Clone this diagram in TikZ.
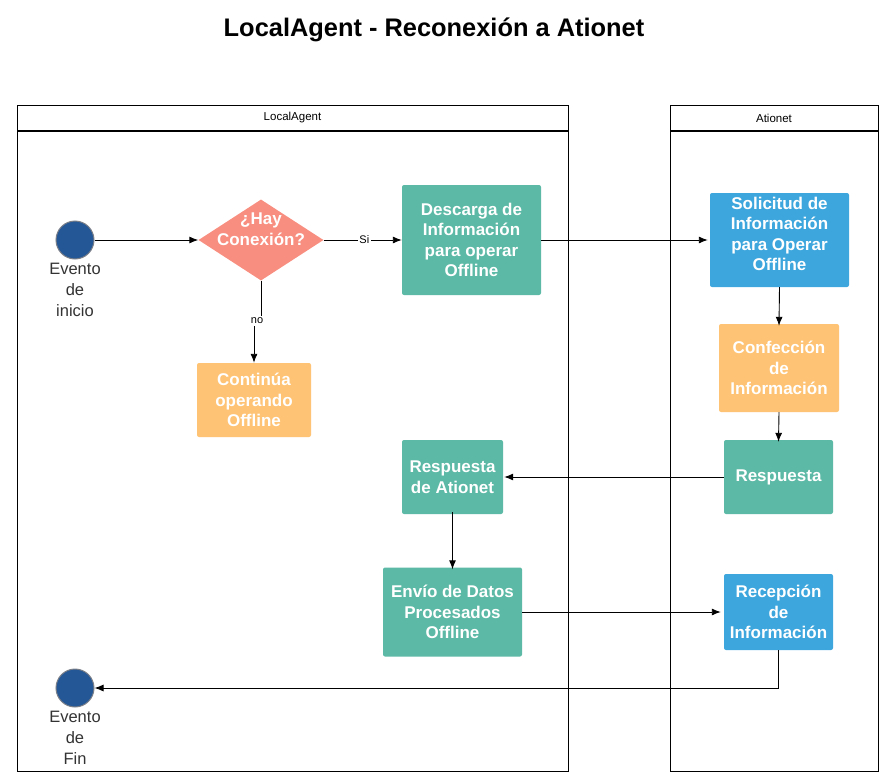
\documentclass[tikz,border=0pt]{standalone}
\usepackage{fontspec}
\setmainfont{Liberation Sans}
\usetikzlibrary{shapes.geometric,arrows.meta}
\definecolor{tealbox}{HTML}{5CB9A5}
\definecolor{bluebox}{HTML}{3DA6DD}
\definecolor{orangebox}{HTML}{FEC374}
\definecolor{salmon}{HTML}{F88E7F}
\definecolor{evblue}{HTML}{245796}
\definecolor{evborder}{HTML}{7A7F88}
\definecolor{lbltext}{HTML}{333333}
\begin{document}
\begin{tikzpicture}[x=1pt,y=-1pt,
  box/.style={rectangle, rounded corners=2pt, draw=none, text=white,
    font=\fontsize{17}{20.5}\selectfont\bfseries, align=center, inner sep=0pt},
  arr/.style={-{Latex[length=9pt,width=7pt]}, line width=0.9pt},
  pool/.style={draw, line width=1.2pt, anchor=north west, inner sep=0pt},
  poolname/.style={font=\fontsize{11.5}{13}\selectfont},
  ev/.style={circle, fill=evblue, draw=evborder, line width=1pt, minimum size=38pt, inner sep=0pt},
  evlbl/.style={font=\fontsize{16.5}{21}\selectfont, text=lbltext, align=center, anchor=north},
  elbl/.style={font=\fontsize{11}{12}\selectfont, fill=white, inner sep=1.5pt}]
\useasboundingbox (0,0) rectangle (883,781);

% title
\node[font=\fontsize{25.4}{28}\selectfont\bfseries] (title) at (434,30) {LocalAgent - Reconexión a Ationet};

% pools
\node[pool, minimum width=551pt, minimum height=666pt] (poolA) at (17,105) {};
\draw[line width=1.2pt] (poolA.north west) ++(0,26) coordinate (hA1) -- (hA1 -| poolA.east);
\node[poolname] (poolAname) at (292.5,118) {LocalAgent};
\node[pool, minimum width=208pt, minimum height=666pt] (poolB) at (670,105) {};
\draw[line width=1.2pt] (poolB.north west) ++(0,26) coordinate (hB1) -- (hB1 -| poolB.east);
\node[poolname] (poolBname) at (774,118) {Ationet};

% start event
\node[ev] (start) at (75,240) {};
\node[evlbl] (startlbl) at (75,259.5) {Evento\\de\\inicio};

% decision
\node[diamond, fill=salmon, minimum width=125pt, minimum height=81pt, inner sep=0pt] (dec) at (261,240) {};
\node[box] (dectext) at (261,229) {¿Hay\\Conexión?};

% boxes
\node[box, fill=tealbox, minimum width=139pt, minimum height=110pt] (desc) at (471.5,240) {Descarga de\\Información\\para operar\\Offline};
\node[box, fill=bluebox, minimum width=139pt, minimum height=94pt] (sol) at (779.5,240) {};
\node[box] (soltext) at (779.5,234) {Solicitud de\\Información\\para Operar\\Offline};
\node[box, fill=orangebox, minimum width=114pt, minimum height=74pt] (cont) at (254,400) {Continúa\\operando\\Offline};
\node[box, fill=orangebox, minimum width=120pt, minimum height=88pt] (conf) at (779,368) {Confección\\de\\Información};
\node[box, fill=tealbox, minimum width=109pt, minimum height=74pt] (resp) at (778.5,477) {Respuesta};
\node[box, fill=tealbox, minimum width=101pt, minimum height=74pt] (respat) at (452.5,477) {Respuesta\\de Ationet};
\node[box, fill=tealbox, minimum width=139pt, minimum height=89pt] (envio) at (452.5,612) {Envío de Datos\\Procesados\\Offline};
\node[box, fill=bluebox, minimum width=109pt, minimum height=76pt] (recep) at (778.5,612) {Recepción\\de\\Información};

% end event
\node[ev] (endev) at (75,688) {};
\node[evlbl] (endlbl) at (75,707.5) {Evento\\de\\Fin};

% connectors
\draw[arr] (start.east) -- (dec.west);
\draw[arr] (dec.east) -- node[elbl, pos=0.52] (si) {Si} (desc.west);
\coordinate (nobend) at (257,321);
\draw[arr] (dec.south) |- (nobend) -| (cont.north);
\node[elbl] (nolbl) at (nobend) {no};
\draw[arr] (desc.east) -- ([xshift=-2pt]sol.west);
\draw[arr] (sol.south) -- ([yshift=-2pt]conf.north);
\draw[arr] (conf.south) -- ([yshift=-2pt]resp.north);
\draw[arr] (resp.west) -- ([xshift=1pt]respat.east);
\draw[arr] ([yshift=2pt]respat.south) -- ([yshift=-2pt]envio.north);
\draw[arr] (envio.east) -- ([xshift=-3pt]recep.west);
\draw[arr] (recep.south) |- (endev.east);
\end{tikzpicture}
\end{document}
